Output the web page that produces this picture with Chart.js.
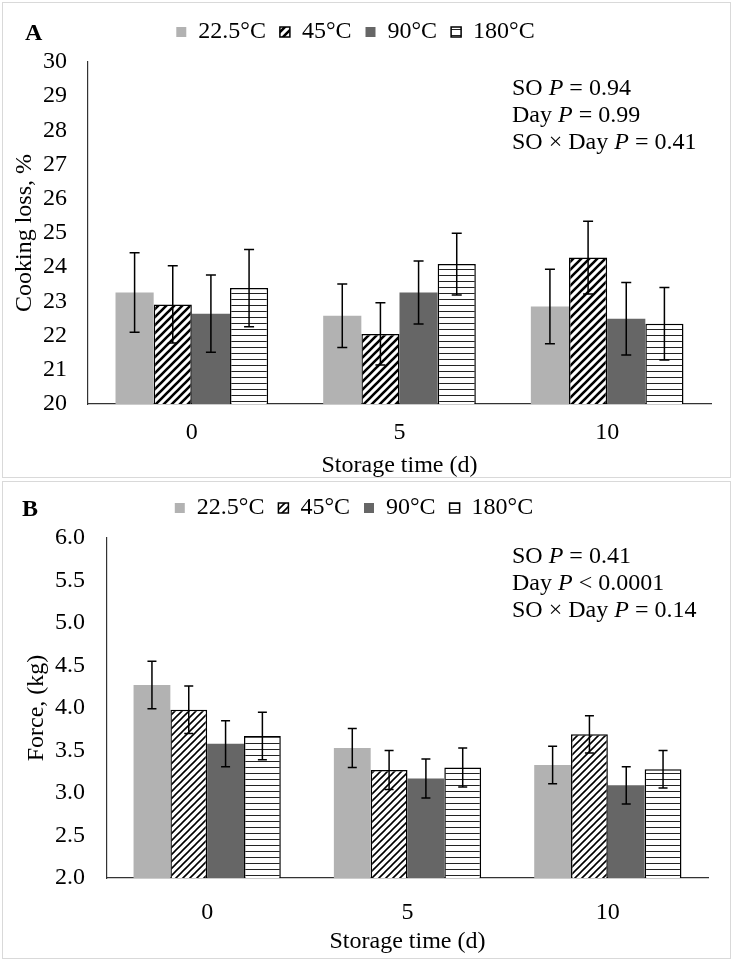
<!DOCTYPE html>
<html>
<head>
<meta charset="utf-8">
<script src="https://cdn.jsdelivr.net/npm/chart.js@4.4.1/dist/chart.umd.min.js"></script>
<style>
  body { margin: 0; background: #fff; font-family: 'Liberation Serif', serif; }
  .panel { position: absolute; left: 0; width: 733px; }
  .frame { position: absolute; border: 1px solid #d9d9d9; pointer-events: none; }
  .tag { position: absolute; font-size: 24px; font-weight: bold; line-height: 24px; }
  .stats { position: absolute; left: 512px; font-size: 24px; line-height: 27px; white-space: nowrap; }
  canvas { position: absolute; left: 0; top: 0; }
</style>
</head>
<body>
<div class="panel" style="top:0;height:478px">
  <canvas id="chartA" width="733" height="478"></canvas>
  <div class="tag" style="left:25px;top:20px">A</div>
  <div class="stats" style="top:74px">SO <i>P</i> = 0.94<br>Day <i>P</i> = 0.99<br>SO × Day <i>P</i> = 0.41</div>
</div>
<div class="frame" style="left:2px;top:2px;width:727px;height:474px"></div>
<div class="panel" style="top:480px;height:480px">
  <canvas id="chartB" width="733" height="480"></canvas>
  <div class="tag" style="left:22px;top:16px">B</div>
  <div class="stats" style="top:62px">SO <i>P</i> = 0.41<br>Day <i>P</i> &lt; 0.0001<br>SO × Day <i>P</i> = 0.14</div>
</div>
<div class="frame" style="left:2px;top:481px;width:727px;height:476px"></div>

<script>
// dados
const days = ['0', '5', '10'];
const seriesNames = ['22.5°C', '45°C', '90°C', '180°C'];

// A - cooking loss (%)
const loss225 = [23.26, 22.58, 22.85];
const loss45 = [22.91, 22.05, 24.28];
const loss90 = [22.64, 23.26, 22.49];
const loss180 = [23.39, 24.09, 22.35];
const lossErr225 = [1.16, 0.93, 1.09];
const lossErr45 = [1.13, 0.91, 1.06];
const lossErr90 = [1.13, 0.92, 1.06];
const lossErr180 = [1.13, 0.90, 1.06];

// B - shear force (kg)
const force225 = [4.27, 3.53, 3.33];
const force45 = [3.98, 3.27, 3.69];
const force90 = [3.58, 3.17, 3.09];
const force180 = [3.67, 3.30, 3.28];
const forceErr225 = [0.28, 0.23, 0.22];
const forceErr45 = [0.28, 0.23, 0.22];
const forceErr90 = [0.27, 0.23, 0.22];
const forceErr180 = [0.28, 0.23, 0.22];

Chart.defaults.font.family = "'Liberation Serif', 'Times New Roman', serif";
Chart.defaults.font.size = 24;
Chart.defaults.color = '#000';

// hachuras
function diagonalPattern(step, width) {
    const c = document.createElement('canvas');
    c.width = step; c.height = step;
    const g = c.getContext('2d');
    g.fillStyle = '#fff';
    g.fillRect(0, 0, step, step);
    g.strokeStyle = '#000';
    g.lineWidth = width;
    g.beginPath();
    g.moveTo(-2, 2); g.lineTo(2, -2);
    g.moveTo(0, step); g.lineTo(step, 0);
    g.moveTo(step - 2, step + 2); g.lineTo(step + 2, step - 2);
    g.stroke();
    return g.createPattern(c, 'repeat');
}

function horizontalPattern(step) {
    const c = document.createElement('canvas');
    c.width = 8; c.height = step;
    const g = c.getContext('2d');
    g.fillStyle = '#fff';
    g.fillRect(0, 0, 8, step);
    g.fillStyle = '#222';
    g.fillRect(0, step - 1, 8, 1);
    return g.createPattern(c, 'repeat');
}

// barras de erro
const errorBars = {
    id: 'errorBars',
    afterDatasetsDraw(chart) {
        const ctx = chart.ctx;
        const y = chart.scales.y;
        const cap = chart.options.plugins.errorBars.cap;
        ctx.save();
        ctx.strokeStyle = '#000';
        ctx.lineWidth = 1.5;
        chart.data.datasets.forEach((ds, i) => {
            const meta = chart.getDatasetMeta(i);
            meta.data.forEach((bar, j) => {
                const v = ds.data[j], e = ds.errors[j];
                const top = y.getPixelForValue(v + e);
                const bot = y.getPixelForValue(v - e);
                ctx.beginPath();
                ctx.moveTo(bar.x, top); ctx.lineTo(bar.x, bot);
                ctx.moveTo(bar.x - cap / 2, top); ctx.lineTo(bar.x + cap / 2, top);
                ctx.moveTo(bar.x - cap / 2, bot); ctx.lineTo(bar.x + cap / 2, bot);
                ctx.stroke();
            });
        });
        ctx.restore();
    }
};

function makeDatasets(values, errors, hatch, lines) {
    const fills = ['#b2b2b2', hatch, '#666666', lines];
    return values.map((v, i) => ({
        label: seriesNames[i],
        data: v,
        errors: errors[i],
        backgroundColor: fills[i],
        borderColor: '#000',
        borderWidth: (i === 1 || i === 3) ? 1.5 : 0,
        borderSkipped: 'start',
        barPercentage: 1,
        categoryPercentage: 0.735
    }));
}

function makeChart(id, cfg) {
    return new Chart(id, {
        type: 'bar',
        data: {
            labels: days,
            datasets: makeDatasets(cfg.values, cfg.errors, cfg.hatch, cfg.lines)
        },
        options: {
            responsive: false,
            animation: false,
            layout: { padding: { top: cfg.padTop, right: cfg.padRight, left: 0, bottom: 0 } },
            plugins: {
                tooltip: { enabled: false },
                errorBars: { cap: cfg.cap },
                legend: {
                    position: 'top',
                    labels: { boxWidth: 10, boxHeight: 10, padding: 14, color: '#000' }
                },
                // espaçador entre legenda e gráfico
                title: {
                    display: true, text: ' ', weight: 500,
                    font: { size: 1, lineHeight: 1 },
                    padding: { top: cfg.gap, bottom: 0 }
                }
            },
            scales: {
                x: {
                    grid: { display: false, drawTicks: false },
                    border: { display: true, color: '#333', width: 1.2 },
                    ticks: { padding: cfg.xTickPad },
                    title: {
                        display: true, text: 'Storage time (d)',
                        font: { lineHeight: 1 }, padding: { top: 0, bottom: cfg.xTitlePad }
                    },
                    afterFit(scale) { scale.height = cfg.xHeight; }
                },
                y: {
                    min: cfg.min, max: cfg.max,
                    grid: { display: false, drawTicks: false },
                    border: { display: true, color: '#333', width: 1.2 },
                    ticks: {
                        stepSize: cfg.step, padding: cfg.yTickPad,
                        callback: cfg.fmt
                    },
                    title: {
                        display: true, text: cfg.yTitle,
                        font: { lineHeight: 1 }, padding: { top: cfg.yTitlePad, bottom: 0 }
                    },
                    afterFit(scale) { scale.width = cfg.yWidth; }
                }
            }
        },
        plugins: [errorBars]
    });
}

makeChart('chartA', {
    values: [loss225, loss45, loss90, loss180],
    errors: [lossErr225, lossErr45, lossErr90, lossErr180],
    hatch: diagonalPattern(8, 2.6),
    lines: horizontalPattern(6),
    min: 20, max: 30, step: 1,
    fmt: v => v,
    yTitle: 'Cooking loss, %',
    padTop: 6, gap: 7, padRight: 22,
    yWidth: 88, yTickPad: 21, yTitlePad: 13,
    xHeight: 74, xTickPad: 14, xTitlePad: 0,
    cap: 10
});

makeChart('chartB', {
    values: [force225, force45, force90, force180],
    errors: [forceErr225, forceErr45, forceErr90, forceErr180],
    hatch: diagonalPattern(7, 1.6),
    lines: horizontalPattern(6),
    min: 2, max: 6, step: 0.5,
    fmt: v => v.toFixed(1),
    yTitle: 'Force, (kg)',
    padTop: 2, gap: 7, padRight: 25,
    yWidth: 107, yTickPad: 22, yTitlePad: 25,
    xHeight: 82, xTickPad: 20, xTitlePad: 6,
    cap: 9
});
</script>
</body>
</html>
